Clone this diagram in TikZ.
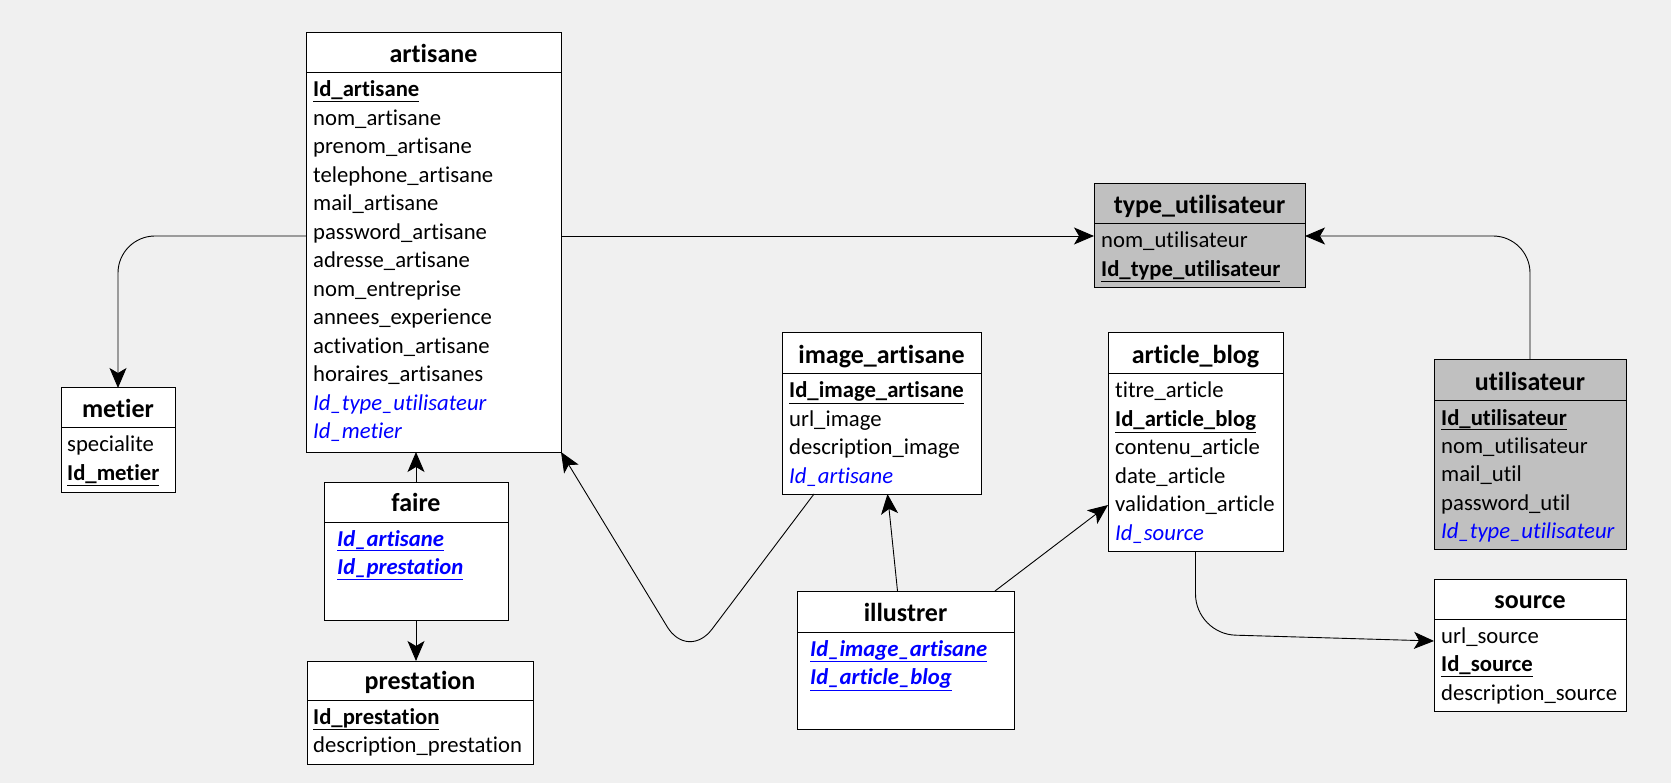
\documentclass[tikz,border=0pt]{standalone}
\usepackage{fontspec}
\setmainfont{Carlito}[Ligatures=CommonOff]
\usepackage{tikz}
\usetikzlibrary{arrows.meta}
\definecolor{fondgris}{HTML}{F0F0F0}
\definecolor{tablegris}{HTML}{C0C0C0}
\definecolor{clefbleu}{HTML}{0000FF}
\newcommand{\pk}[1]{\textbf{\underline{#1}}}
\newcommand{\fk}[1]{\textcolor{clefbleu}{\textit{#1}}}
\newcommand{\pfk}[1]{\textcolor{clefbleu}{\textbf{\textit{\underline{#1}}}}}

\begin{document}
\begin{tikzpicture}[x=1pt,y=-1pt,>={Stealth[length=20pt,width=17pt,inset=5pt]},
    entity/.style={draw,line width=1pt,fill=white,inner sep=0pt,outer sep=0pt},
    grise/.style={entity,fill=tablegris},
    titre/.style={anchor=base,inner sep=0pt,font=\fontsize{26}{28}\selectfont\bfseries},
    champs/.style={anchor=base west,inner sep=0pt,font=\fontsize{22.7}{28.5}\selectfont},
    lien/.style={->,line width=0.9pt}]

    \fill[fondgris] (0,0) rectangle (1671,783);
    \useasboundingbox (0,0) rectangle (1671,783);

    % artisane
    \node[entity,minimum width=255pt,minimum height=419pt] (artisane) at (433.5,242.5) {};
    \draw[line width=1pt] ([yshift=-40pt]artisane.north west) -- ([yshift=-40pt]artisane.north east);
    \node[titre] at ([yshift=-29.5pt]artisane.north) {artisane};
    \node[champs] at ([xshift=7pt,yshift=-64pt]artisane.north west) {\begin{tabular}[t]{@{}l@{}}
        \pk{Id\_artisane}\\ nom\_artisane\\ prenom\_artisane\\ telephone\_artisane\\
        mail\_artisane\\ password\_artisane\\ adresse\_artisane\\ nom\_entreprise\\
        annees\_experience\\ activation\_artisane\\ horaires\_artisanes\\
        \fk{Id\_type\_utilisateur}\\ \fk{Id\_metier}
    \end{tabular}};

    % metier
    \node[entity,minimum width=114pt,minimum height=104pt] (metier) at (118,440) {};
    \draw[line width=1pt] ([yshift=-40pt]metier.north west) -- ([yshift=-40pt]metier.north east);
    \node[titre] at ([yshift=-29.5pt]metier.north) {metier};
    \node[champs] at ([xshift=6pt,yshift=-64pt]metier.north west) {\begin{tabular}[t]{@{}l@{}}
        specialite\\ \pk{Id\_metier}
    \end{tabular}};

    % faire
    \node[entity,minimum width=184pt,minimum height=138pt] (faire) at (416,551) {};
    \draw[line width=1pt] ([yshift=-40pt]faire.north west) -- ([yshift=-40pt]faire.north east);
    \node[titre] at ([yshift=-29.5pt]faire.north) {faire};
    \node[champs] at ([xshift=13pt,yshift=-64pt]faire.north west) {\begin{tabular}[t]{@{}l@{}}
        \pfk{Id\_artisane}\\ \pfk{Id\_prestation}
    \end{tabular}};

    % prestation
    \node[entity,minimum width=226pt,minimum height=103pt] (prestation) at (420,712.5) {};
    \draw[line width=1pt] ([yshift=-39pt]prestation.north west) -- ([yshift=-39pt]prestation.north east);
    \node[titre] at ([yshift=-28.5pt]prestation.north) {prestation};
    \node[champs] at ([xshift=6pt,yshift=-63pt]prestation.north west) {\begin{tabular}[t]{@{}l@{}}
        \pk{Id\_prestation}\\ description\_prestation
    \end{tabular}};

    % image_artisane
    \node[entity,minimum width=199pt,minimum height=161pt] (imageart) at (881.5,413.5) {};
    \draw[line width=1pt] ([yshift=-41pt]imageart.north west) -- ([yshift=-41pt]imageart.north east);
    \node[titre] at ([yshift=-30.5pt]imageart.north) {image\_artisane};
    \node[champs] at ([xshift=7pt,yshift=-65pt]imageart.north west) {\begin{tabular}[t]{@{}l@{}}
        \pk{Id\_image\_artisane}\\ url\_image\\ description\_image\\ \fk{Id\_artisane}
    \end{tabular}};

    % illustrer
    \node[entity,minimum width=217pt,minimum height=138pt] (illustrer) at (905.5,660) {};
    \draw[line width=1pt] ([yshift=-41pt]illustrer.north west) -- ([yshift=-41pt]illustrer.north east);
    \node[titre] at ([yshift=-30.5pt]illustrer.north) {illustrer};
    \node[champs] at ([xshift=13pt,yshift=-65pt]illustrer.north west) {\begin{tabular}[t]{@{}l@{}}
        \pfk{Id\_image\_artisane}\\ \pfk{Id\_article\_blog}
    \end{tabular}};

    % type_utilisateur
    \node[grise,minimum width=211pt,minimum height=104pt] (typeu) at (1199.5,236) {};
    \draw[line width=1pt] ([yshift=-40pt]typeu.north west) -- ([yshift=-40pt]typeu.north east);
    \node[titre] at ([yshift=-29.5pt]typeu.north) {type\_utilisateur};
    \node[champs] at ([xshift=7pt,yshift=-64pt]typeu.north west) {\begin{tabular}[t]{@{}l@{}}
        nom\_utilisateur\\ \pk{Id\_type\_utilisateur}
    \end{tabular}};

    % article_blog
    \node[entity,minimum width=175pt,minimum height=218pt] (article) at (1195.5,442) {};
    \draw[line width=1pt] ([yshift=-41pt]article.north west) -- ([yshift=-41pt]article.north east);
    \node[titre] at ([yshift=-30.5pt]article.north) {article\_blog};
    \node[champs] at ([xshift=7pt,yshift=-65pt]article.north west) {\begin{tabular}[t]{@{}l@{}}
        titre\_article\\ \pk{Id\_article\_blog}\\ contenu\_article\\ date\_article\\
        validation\_article\\ \fk{Id\_source}
    \end{tabular}};

    % utilisateur
    \node[grise,minimum width=192pt,minimum height=189pt] (utilisateur) at (1530,454.5) {};
    \draw[line width=1pt] ([yshift=-41pt]utilisateur.north west) -- ([yshift=-41pt]utilisateur.north east);
    \node[titre] at ([yshift=-30.5pt]utilisateur.north) {utilisateur};
    \node[champs] at ([xshift=7pt,yshift=-65pt]utilisateur.north west) {\begin{tabular}[t]{@{}l@{}}
        \pk{Id\_utilisateur}\\ nom\_utilisateur\\ mail\_util\\ password\_util\\
        \fk{Id\_type\_utilisateur}
    \end{tabular}};

    % source
    \node[entity,minimum width=192pt,minimum height=132pt] (source) at (1530,645) {};
    \draw[line width=1pt] ([yshift=-40pt]source.north west) -- ([yshift=-40pt]source.north east);
    \node[titre] at ([yshift=-29.5pt]source.north) {source};
    \node[champs] at ([xshift=7pt,yshift=-64pt]source.north west) {\begin{tabular}[t]{@{}l@{}}
        url\_source\\ \pk{Id\_source}\\ description\_source
    \end{tabular}};

    % liens
    \coordinate (creux) at (688,661);
    \coordinate (coude) at (1195.5,634);
    \draw[lien,rounded corners=37pt] (artisane.west |- typeu.west) -| (metier.north);
    \draw[lien] (artisane.east |- typeu.west) -- (typeu.west);
    \draw[lien,rounded corners=37pt] (utilisateur.north) |- (typeu.east);
    \draw[lien] (faire.north) -- (faire.north |- artisane.south);
    \draw[lien] (faire.south) -- (faire.south |- prestation.north);
    \draw[lien,rounded corners=40pt] ([xshift=32pt]imageart.south west) -- (creux) -- (artisane.south east);
    \draw[lien] ([xshift=-8pt]illustrer.north) -- ([xshift=6pt]imageart.south);
    \draw[lien] ([xshift=-19pt]illustrer.north east) -- ([yshift=-63pt]article.west);
    \draw[lien,rounded corners=40pt] (article.south) -- (coude) -- ([yshift=4pt]source.west);
\end{tikzpicture}
\end{document}
